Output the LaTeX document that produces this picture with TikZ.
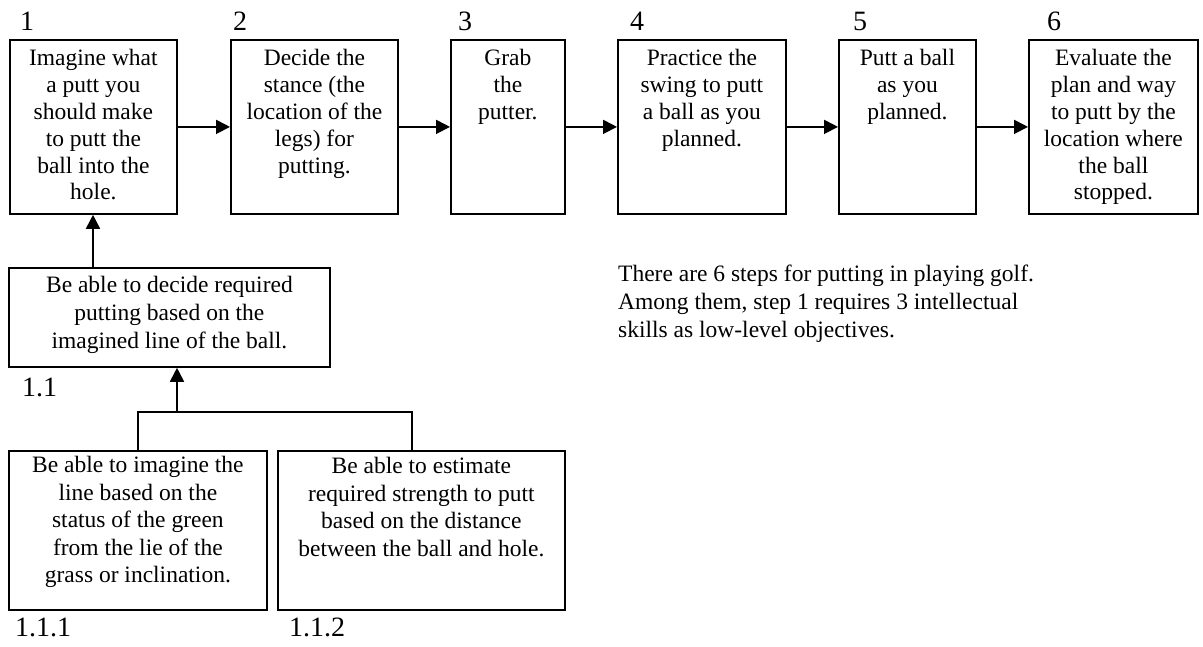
\documentclass[tikz,border=0pt]{standalone}
\usepackage{fontspec}
\setmainfont{Liberation Serif}
\usetikzlibrary{arrows.meta,calc}
\newcommand{\boxtext}[4]{\parbox[t][#2pt][t]{#1pt}{\centering\fontsize{23.5}{#3}\selectfont #4}}
\begin{document}
\begin{tikzpicture}[x=1pt,y=-1pt,
  stepbox/.style={draw,line width=1.8pt,inner sep=0pt,anchor=north west},
  numlabel/.style={inner sep=0pt,anchor=base west,font=\fontsize{28}{30}\selectfont},
  arr/.style={line width=1.8pt,-{Triangle[length=14pt,width=14pt]}},
  conn/.style={line width=1.8pt}]
\useasboundingbox[fill=white] (0,0) rectangle (1203,647);
% top steps
\node[stepbox] (b1) at (9,39) {\boxtext{167}{174}{26.8}{\rule{0pt}{26pt}Imagine what\\a putt you\\should make\\to putt the\\ball into the\\hole.}};
\node[stepbox] (b2) at (230,39) {\boxtext{167}{174}{26.8}{\rule{0pt}{26pt}Decide the\\stance (the\\location of the\\legs) for\\putting.}};
\node[stepbox] (b3) at (450,39) {\boxtext{114}{174}{26.8}{\rule{0pt}{26pt}Grab\\the\\putter.}};
\node[stepbox] (b4) at (617,39) {\boxtext{168}{174}{26.8}{\rule{0pt}{26pt}Practice the\\swing to putt\\a ball as you\\planned.}};
\node[stepbox] (b5) at (838,39) {\boxtext{137}{174}{26.8}{\rule{0pt}{26pt}Putt a ball\\as you\\planned.}};
\node[stepbox] (b6) at (1028,39) {\boxtext{169}{174}{26.8}{\rule{0pt}{26pt}Evaluate the\\plan and way\\to putt by the\\location where\\the ball\\stopped.}};
% labels
\node[numlabel] (n1) at (20,31) {1};
\node[numlabel] (n2) at (233,31) {2};
\node[numlabel] (n3) at (458,31) {3};
\node[numlabel] (n4) at (630,31) {4};
\node[numlabel] (n5) at (853,31) {5};
\node[numlabel] (n6) at (1047,31) {6};
% arrows between steps
\draw[arr] (b1.east) -- (b2.west);
\draw[arr] (b2.east) -- (b3.west);
\draw[arr] (b3.east) -- (b4.west);
\draw[arr] (b4.east) -- (b5.west);
\draw[arr] (b5.east) -- (b6.west);
% sub-objectives
\node[stepbox] (b11) at (8,267) {\boxtext{321}{99}{27.8}{\rule{0pt}{25pt}Be able to decide required\\putting based on the\\imagined line of the ball.}};
\node[numlabel] (n11) at (22,396) {1.1};
\node[stepbox] (b111) at (8,450) {\boxtext{258}{159}{27.5}{\rule{0pt}{22pt}Be able to imagine the\\line based on the\\status of the green\\from the lie of the\\grass or inclination.}};
\node[stepbox] (b112) at (277,450) {\boxtext{287}{159}{27.5}{\rule{0pt}{23pt}Be able to estimate\\required strength to putt\\based on the distance\\between the ball and hole.}};
\node[numlabel] (n111) at (15,636) {1.1.1};
\node[numlabel] (n112) at (289,636) {1.1.2};
% connectors
\coordinate (up1) at ($(b11.north west)+(85,0)$);
\draw[arr] (up1) -- (up1 |- b1.south);
\coordinate (j) at (177,412);
\coordinate (d2) at ($(b112.north west)+(135,0)$);
\draw[conn] (b111.north) |- (j) -| (d2);
\draw[arr] (j) -- (j |- b11.south);
% description
\node[inner sep=0pt,anchor=base west] (desc) at (618,282) {\parbox[t]{480pt}{\raggedright\fontsize{23.5}{28}\selectfont There are 6 steps for putting in playing golf.\\Among them, step 1 requires 3 intellectual\\skills as low-level objectives.}};
\end{tikzpicture}
\end{document}
